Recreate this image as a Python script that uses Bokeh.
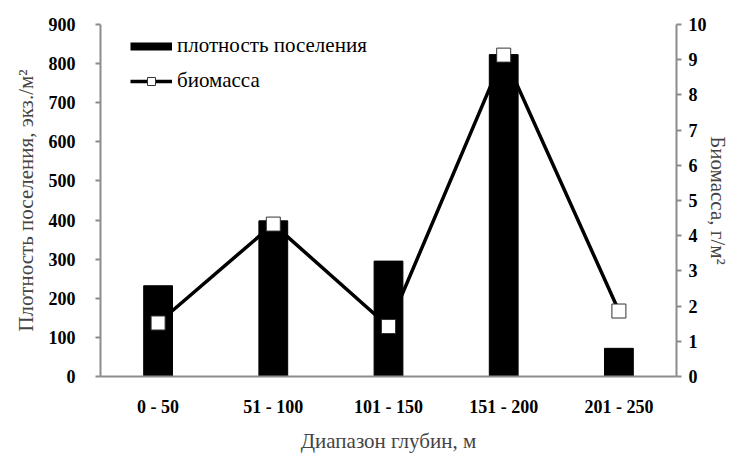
import math
from bokeh.plotting import figure
from bokeh.models import (FactorRange, Range1d, LinearAxis, Legend, LegendItem,
                          ColumnDataSource, FixedTicker)
from bokeh.embed import file_html
from bokeh.resources import INLINE

categories = ["0 - 50", "51 - 100", "101 - 150", "151 - 200", "201 - 250"]
density = [232, 398, 295, 823, 72]
biomass = [1.52, 4.33, 1.42, 9.13, 1.86]
left_ticks = [0, 100, 200, 300, 400, 500, 600, 700, 800, 900]
right_ticks = [0, 1, 2, 3, 4, 5, 6, 7, 8, 9, 10]

FONT = "Liberation Serif"
AXIS_GREY = "#8c8c8c"
TITLE_SIZE = "21px"
TICK_SIZE = "18px"

src = ColumnDataSource(dict(cat=categories, density=density, biomass=biomass))

p = figure(x_range=FactorRange(*categories, range_padding=0),
           y_range=Range1d(0, 900),
           frame_width=576, frame_height=352,
           output_backend="svg", toolbar_location=None,
           min_border_left=100, min_border_right=5,
           min_border_top=24, min_border_bottom=5)
p.extra_y_ranges = {"bio": Range1d(0, 10)}

p.outline_line_color = None
p.xgrid.grid_line_color = None
p.ygrid.grid_line_color = None
p.background_fill_color = "white"
p.border_fill_color = "white"

bars = p.vbar(x="cat", top="density", width=0.25, source=src,
              fill_color="black", line_color="black")
line_r = p.line(x="cat", y="biomass", source=src, y_range_name="bio",
                line_color="black", line_width=3.5)
pts = p.scatter(x="cat", y="biomass", source=src, y_range_name="bio",
                marker="square", size=14, fill_color="white",
                line_color="#333333", line_width=1)

# legend proxy for the bars (a thick short bar); NaN so nothing is drawn in the plot
proxy_src = ColumnDataSource(dict(x=[categories[0]], y=[math.nan]))
bar_proxy = p.line(x="x", y="y", source=proxy_src, line_color="black", line_width=8)

# axes styling
xa = p.xaxis[0]
xa.axis_label = "Диапазон глубин, м"
xa.axis_label_text_font = FONT
xa.axis_label_text_font_size = TITLE_SIZE
xa.axis_label_text_font_style = "normal"
xa.axis_label_standoff = 9
xa.major_label_text_font = FONT
xa.major_label_text_font_size = TICK_SIZE
xa.major_label_text_font_style = "bold"
xa.major_label_text_color = "black"
xa.major_label_standoff = 14
xa.major_tick_line_color = None
xa.minor_tick_line_color = None
xa.axis_line_color = AXIS_GREY
xa.axis_line_width = 2

ya = p.yaxis[0]
ya.ticker = FixedTicker(ticks=left_ticks)
ya.axis_label = "Плотность поселения, экз./м²"
ya.axis_label_text_font = FONT
ya.axis_label_text_font_size = TITLE_SIZE
ya.axis_label_text_font_style = "normal"
ya.axis_label_standoff = 8
ya.major_label_text_font = FONT
ya.major_label_text_font_size = TICK_SIZE
ya.major_label_text_font_style = "bold"
ya.major_label_text_color = "black"
ya.major_label_standoff = 20
ya.major_tick_out = 5
ya.major_tick_in = 0
ya.minor_tick_line_color = None
ya.axis_line_color = AXIS_GREY
ya.axis_line_width = 2
ya.major_tick_line_color = AXIS_GREY
ya.major_tick_line_width = 2

ra = LinearAxis(y_range_name="bio", ticker=FixedTicker(ticks=right_ticks))
ra.axis_label = "Биомасса, г/м²"
ra.axis_label_text_font = FONT
ra.axis_label_text_font_size = TITLE_SIZE
ra.axis_label_text_font_style = "normal"
ra.axis_label_standoff = -4
ra.major_label_text_font = FONT
ra.major_label_text_font_size = TICK_SIZE
ra.major_label_text_font_style = "bold"
ra.major_label_text_color = "black"
ra.major_label_standoff = 7
ra.major_tick_out = 5
ra.major_tick_in = 0
ra.minor_tick_line_color = None
ra.axis_line_color = AXIS_GREY
ra.axis_line_width = 2
ra.major_tick_line_color = AXIS_GREY
ra.major_tick_line_width = 2
p.add_layout(ra, "right")

legend = Legend(items=[
    LegendItem(label="плотность поселения", renderers=[bar_proxy]),
    LegendItem(label="биомасса", renderers=[line_r, pts]),
], location=(30, 283))
legend.label_text_font = FONT
legend.label_text_font_size = TITLE_SIZE
legend.label_text_color = "black"
legend.glyph_width = 42
legend.glyph_height = 20
legend.label_height = 20
legend.spacing = 10
legend.label_standoff = 5
legend.padding = 0
legend.margin = 0
legend.border_line_color = None
legend.background_fill_alpha = 0
p.add_layout(legend, "center")

open("out.html", "w").write(file_html(p, INLINE))
